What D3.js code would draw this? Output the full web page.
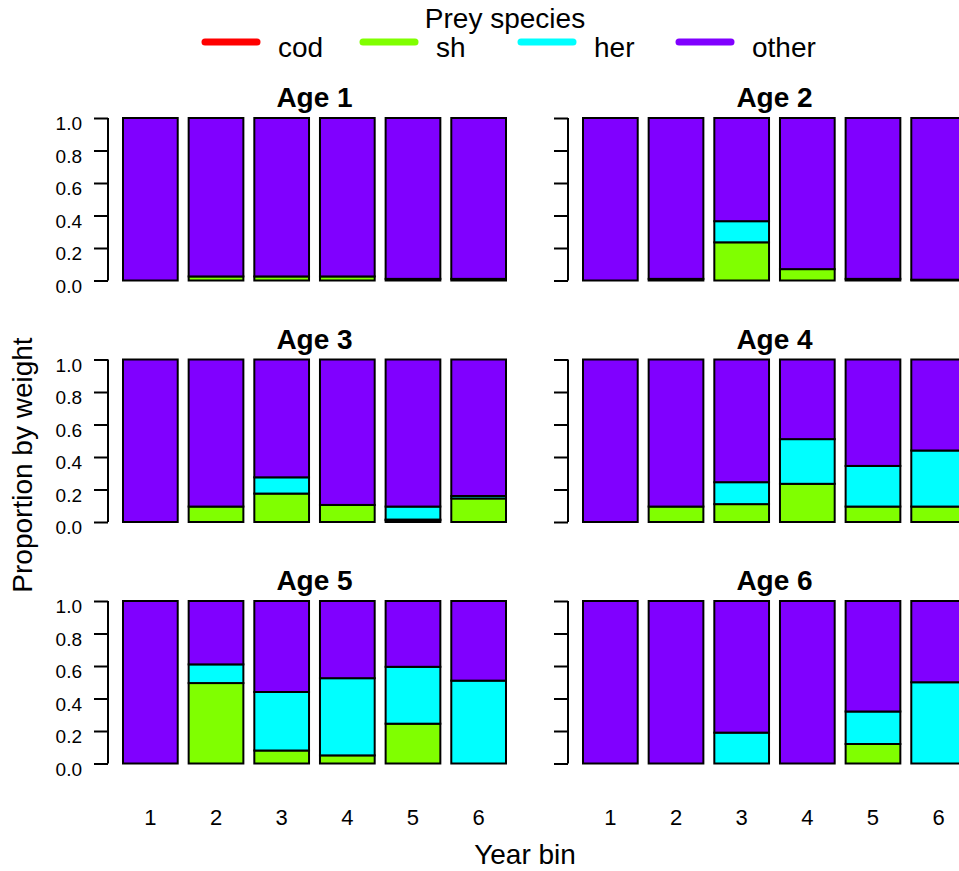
<!DOCTYPE html>
<html>
<head>
<meta charset="utf-8">
<script src="https://cdn.jsdelivr.net/npm/d3@7"></script>
<style>
  body { margin: 0; background: #fff; }
  svg { font-family: "Liberation Sans", Arial, sans-serif; }
</style>
</head>
<body>
<svg id="chart" width="959" height="871"></svg>
<script>
// Stacked proportions of prey by weight, one panel per predator age.
const yearBins = [1, 2, 3, 4, 5, 6];
const ageLabels = ['Age 1', 'Age 2', 'Age 3', 'Age 4', 'Age 5', 'Age 6'];
const species = ['cod', 'sh', 'her', 'other'];
const speciesColors = ['#FF0000', '#80FF00', '#00FFFF', '#8000FF'];
const yTicks = [0, 0.2, 0.4, 0.6, 0.8, 1.0];

// rows = ages 1..6, columns = year bins 1..6
const cod = [
  [0, 0, 0, 0, 0.01, 0.01],
  [0, 0.01, 0, 0, 0.01, 0.005],
  [0, 0, 0, 0, 0.01, 0],
  [0, 0, 0, 0, 0, 0],
  [0, 0, 0, 0, 0, 0],
  [0, 0, 0, 0, 0, 0]
];
const sh = [
  [0, 0.025, 0.025, 0.025, 0, 0],
  [0, 0, 0.235, 0.07, 0, 0],
  [0, 0.095, 0.175, 0.105, 0.005, 0.145],
  [0, 0.095, 0.11, 0.235, 0.095, 0.095],
  [0, 0.495, 0.08, 0.05, 0.245, 0],
  [0, 0, 0, 0, 0.12, 0]
];
const her = [
  [0, 0, 0, 0, 0, 0],
  [0, 0, 0.13, 0, 0, 0],
  [0, 0, 0.1, 0, 0.08, 0.015],
  [0, 0, 0.135, 0.275, 0.25, 0.345],
  [0, 0.115, 0.36, 0.475, 0.35, 0.51],
  [0, 0, 0.19, 0, 0.2, 0.5]
];
const other = [
  [1, 0.975, 0.975, 0.975, 0.99, 0.99],
  [1, 0.99, 0.635, 0.93, 0.99, 0.995],
  [1, 0.905, 0.725, 0.895, 0.905, 0.84],
  [1, 0.905, 0.755, 0.49, 0.655, 0.56],
  [1, 0.39, 0.56, 0.475, 0.405, 0.49],
  [1, 1, 0.81, 1, 0.68, 0.5]
];
const seriesBySpecies = { cod, sh, her, other };

const svg = d3.select('#chart');
const colorOf = d3.scaleOrdinal(species, speciesColors);

// panel geometry (2 columns x 3 rows)
const colLeft = [123, 583];
const plotW = 383;
const rowTop = [118, 359.5, 601];
const plotH = 162.5;

const stack = d3.stack().keys(species);

ageLabels.forEach((label, a) => {
  const col = a % 2, row = Math.floor(a / 2);
  const x = d3.scaleBand().domain(yearBins)
    .range([colLeft[col], colLeft[col] + plotW])
    .paddingInner(0.2 / 1.2).paddingOuter(0);
  const y = d3.scaleLinear().domain([0, 1])
    .range([rowTop[row] + plotH, rowTop[row]]);

  const table = yearBins.map((b, i) => {
    const r = { bin: b };
    species.forEach(s => { r[s] = seriesBySpecies[s][a][i]; });
    return r;
  });
  const layers = stack(table);

  const g = svg.append('g');
  g.selectAll('g.layer').data(layers).join('g')
    .attr('class', 'layer')
    .attr('fill', d => colorOf(d.key))
    .selectAll('rect').data(d => d).join('rect')
    .attr('x', d => x(d.data.bin))
    .attr('width', x.bandwidth())
    .attr('y', d => y(d[1]))
    .attr('height', d => y(d[0]) - y(d[1]))
    .attr('stroke', '#000').attr('stroke-width', 2);

  // y axis, R style: line spans ticks, labels only on left column
  const axisX = colLeft[col] - 15;
  const yAxis = d3.axisLeft(y).tickValues(yTicks).tickSize(14).tickSizeOuter(0)
    .tickFormat(col === 0 ? d3.format('.1f') : '');
  const ax = svg.append('g').attr('transform', `translate(${axisX},0)`).call(yAxis);
  ax.attr('font-family', null).attr('font-size', null);
  ax.select('.domain').attr('stroke-width', 2).attr('d', `M0,${y(0)}V${y(1)}`);
  ax.selectAll('.tick line').attr('stroke-width', 2);
  ax.selectAll('.tick text').attr('font-size', 19).attr('fill', '#000')
    .attr('x', -26).attr('dy', '0.62em');

  svg.append('text')
    .attr('x', colLeft[col] + plotW / 2)
    .attr('y', rowTop[row] - 11)
    .attr('text-anchor', 'middle')
    .attr('font-size', 28).attr('font-weight', 'bold')
    .text(label);

  if (row === 2) {
    svg.append('g').selectAll('text').data(yearBins).join('text')
      .attr('x', d => x(d) + x.bandwidth() / 2)
      .attr('y', 825)
      .attr('text-anchor', 'middle')
      .attr('font-size', 22)
      .text(d => d);
  }
});

svg.append('text')
  .attr('x', 525).attr('y', 864)
  .attr('text-anchor', 'middle').attr('font-size', 28)
  .text('Year bin');

svg.append('text')
  .attr('transform', 'translate(32,465) rotate(-90)')
  .attr('text-anchor', 'middle').attr('font-size', 28)
  .text('Proportion by weight');

// legend
const legendX = d3.scalePoint().domain(species).range([205, 679]);
svg.append('text')
  .attr('x', 505).attr('y', 28)
  .attr('text-anchor', 'middle').attr('font-size', 28)
  .text('Prey species');
const leg = svg.append('g').selectAll('g').data(species).join('g')
  .attr('transform', d => `translate(${legendX(d)},42)`);
leg.append('line')
  .attr('x1', 0).attr('x2', 52)
  .attr('stroke', d => colorOf(d)).attr('stroke-width', 7)
  .attr('stroke-linecap', 'round');
leg.append('text')
  .attr('x', 73).attr('y', 15)
  .attr('font-size', 28)
  .text(d => d);
</script>
</body>
</html>
